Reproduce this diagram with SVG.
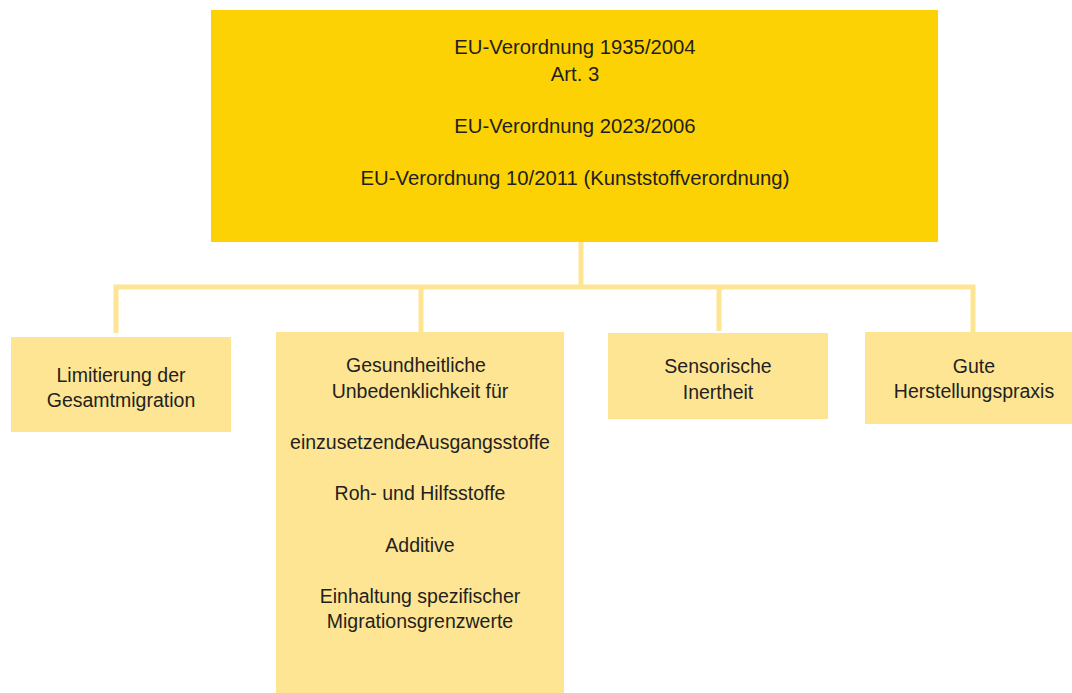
<svg xmlns="http://www.w3.org/2000/svg" width="1072" height="693" viewBox="0 0 1072 693">
<style>
.t{font-family:"Liberation Sans",Arial,sans-serif;font-size:19.5px;fill:#231f20;text-anchor:middle}
.tt{font-size:20.3px}
.top{fill:#fcd205}
.box{fill:#fee593}
.ln{stroke:#fee593;stroke-width:5;fill:none}
</style>
<rect width="1072" height="693" fill="#ffffff"/>
<g id="connectors">
<path class="ln" d="M581,242 V287"/>
<path class="ln" d="M116,333 V287 H973 V333"/>
<path class="ln" d="M421,287 V332"/>
<path class="ln" d="M719,287 V331"/>
</g>
<g id="top">
<rect class="top" x="211" y="10" width="727" height="232"/>
<text class="t tt" x="575" y="54">EU-Verordnung 1935/2004</text>
<text class="t tt" x="575" y="81">Art. 3</text>
<text class="t tt" x="575" y="133">EU-Verordnung 2023/2006</text>
<text class="t tt" x="575" y="185">EU-Verordnung 10/2011 (Kunststoffverordnung)</text>
</g>
<g id="n1">
<rect class="box" x="11" y="337" width="220" height="95"/>
<text class="t" x="121" y="382">Limitierung der</text>
<text class="t" x="121" y="407">Gesamtmigration</text>
</g>
<g id="n2">
<rect class="box" x="276" y="332" width="288" height="361"/>
<text class="t" x="416" y="372">Gesundheitliche</text>
<text class="t" x="420" y="398">Unbedenklichkeit für</text>
<text class="t" x="420" y="449">einzusetzendeAusgangsstoffe</text>
<text class="t" x="420" y="500">Roh- und Hilfsstoffe</text>
<text class="t" x="420" y="552">Additive</text>
<text class="t" x="420" y="603">Einhaltung spezifischer</text>
<text class="t" x="420" y="628">Migrationsgrenzwerte</text>
</g>
<g id="n3">
<rect class="box" x="608" y="333" width="220" height="86"/>
<text class="t" x="718" y="373">Sensorische</text>
<text class="t" x="718" y="399">Inertheit</text>
</g>
<g id="n4">
<rect class="box" x="865" y="332" width="207" height="92"/>
<text class="t" x="974" y="373">Gute</text>
<text class="t" x="974" y="398">Herstellungspraxis</text>
</g>
</svg>
